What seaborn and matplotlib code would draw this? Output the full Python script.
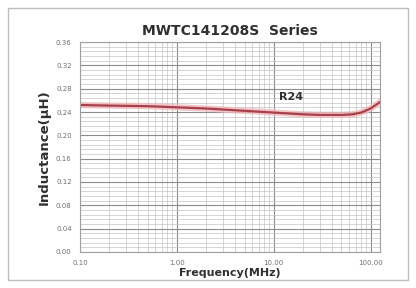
import numpy as np
import pandas as pd
import matplotlib
matplotlib.use("Agg")
import matplotlib.pyplot as plt
import seaborn as sns
from matplotlib.ticker import FixedLocator, LogLocator, MultipleLocator, NullFormatter
from matplotlib.patches import Rectangle

sns.set_theme(style="white")
plt.rcParams['font.family'] = ['DejaVu Sans']

# data
freq_mhz = [0.10, 0.20, 0.50, 1.0, 2.0, 5.0, 10.0, 20.0, 30.0, 50.0, 65.0, 80.0, 100.0, 125.0]
inductance_uh = [0.252, 0.251, 0.250, 0.248, 0.246, 0.242, 0.239, 0.236, 0.235, 0.235, 0.236, 0.239, 0.246, 0.257]
x_ticks = [0.1, 1, 10, 100]
x_ticklabels = ["0.10", "1.00", "10.00", "100.00"]
y_ticks = [0.00, 0.04, 0.08, 0.12, 0.16, 0.20, 0.24, 0.28, 0.32, 0.36]
series_label = "R24"

df = pd.DataFrame({"freq": freq_mhz, "L": inductance_uh})

fig = plt.figure(figsize=(4.16, 2.88), dpi=100)
ax = fig.add_axes([80 / 416, 1 - 252 / 288, 300 / 416, 210 / 288])

sns.lineplot(data=df, x="freq", y="L", ax=ax, color="#f2b8bc", linewidth=4.5, alpha=0.8)
sns.lineplot(data=df, x="freq", y="L", ax=ax, color="#a8404c", linewidth=1.6)

ax.set_xscale("log")
ax.set_xlim(0.1, 125)
ax.set_ylim(0, 0.36)

ax.xaxis.set_major_locator(FixedLocator(x_ticks))
ax.set_xticklabels(x_ticklabels)
ax.xaxis.set_minor_locator(LogLocator(base=10, subs=np.arange(2, 10)))
ax.xaxis.set_minor_formatter(NullFormatter())
ax.set_yticks(y_ticks)
ax.set_yticklabels([f"{v:.2f}" for v in y_ticks])
ax.yaxis.set_minor_locator(MultipleLocator(0.008))

ax.grid(which="major", color="#8c8c8c", linewidth=0.8)
ax.grid(which="minor", color="#c4c4c4", linewidth=0.5)
ax.set_axisbelow(True)
for s in ax.spines.values():
    s.set_color("#a0a0a0")
    s.set_linewidth(0.8)

ax.tick_params(axis="both", which="major", labelsize=5, colors="#707070", length=0, pad=6)
ax.tick_params(axis="both", which="minor", length=0)

ax.set_xlabel("Frequency(MHz)", fontsize=8, fontweight="bold", color="#303030", labelpad=1)
ax.set_ylabel("Inductance(μH)", fontsize=9.5, fontweight="bold", color="#303030", labelpad=4)
ax.set_title("MWTC141208S  Series", fontsize=10, fontweight="bold", color="#303030", pad=5)

ax.text(15, 0.266, series_label, fontsize=8, fontweight="bold", color="#303030", ha="center", va="center")

# outer frame around chart
fig.patches.append(Rectangle((8 / 416, 8 / 288), 400 / 416, 272 / 288, transform=fig.transFigure,
                             fill=False, edgecolor="#bdbdbd", linewidth=1))

plt.savefig("out.png", dpi=100)
